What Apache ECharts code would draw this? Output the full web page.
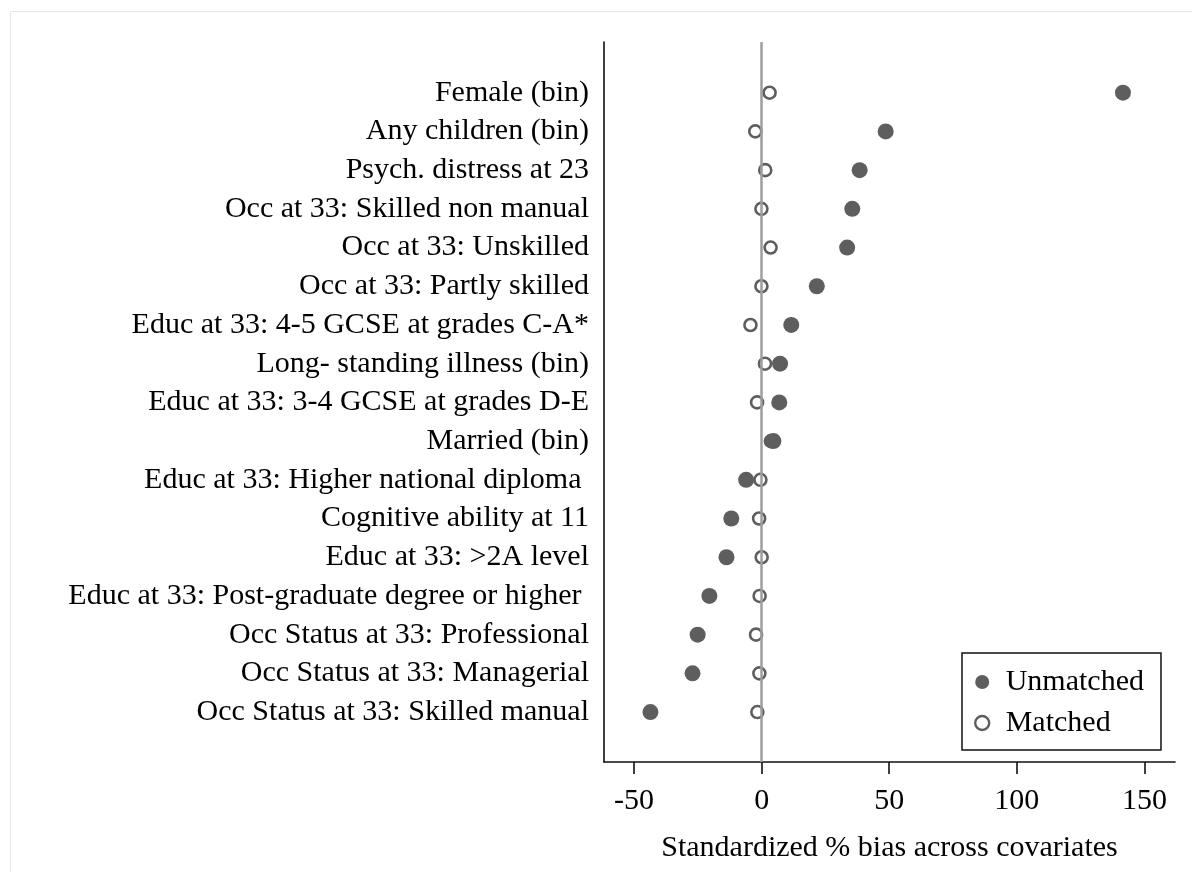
<!DOCTYPE html>
<html>
<head>
<meta charset="utf-8">
<title>Standardized % bias across covariates</title>
<script src="https://cdn.jsdelivr.net/npm/echarts@6/dist/echarts.min.js"></script>
<style>
  html, body { margin: 0; padding: 0; background: #ffffff; }
  #chart { width: 1192px; height: 872px; }
</style>
</head>
<body>
<div id="chart"></div>
<script>
// Covariates, top row first
const covariates = [
  'Female (bin)',
  'Any children (bin)',
  'Psych. distress at 23',
  'Occ at 33: Skilled non manual',
  'Occ at 33: Unskilled',
  'Occ at 33: Partly skilled',
  'Educ at 33: 4-5 GCSE at grades C-A*',
  'Long- standing illness (bin)',
  'Educ at 33: 3-4 GCSE at grades D-E',
  'Married (bin)',
  'Educ at 33: Higher national diploma ',
  'Cognitive ability at 11',
  'Educ at 33: >2A level',
  'Educ at 33: Post-graduate degree or higher ',
  'Occ Status at 33: Professional',
  'Occ Status at 33: Managerial',
  'Occ Status at 33: Skilled manual'
];

// Standardized % bias before matching
const unmatched = [141.6, 48.6, 38.4, 35.5, 33.5, 21.6, 11.6, 7.2, 6.9, 4.6,
                   -6.1, -11.9, -13.8, -20.5, -25.1, -27.1, -43.6];

// Standardized % bias after matching
const matched = [3.1, -2.5, 1.4, -0.1, 3.5, -0.1, -4.4, 1.3, -1.8, 3.6,
                 -0.5, -1.0, 0.0, -0.8, -2.2, -0.9, -1.7];

const xTicks = [-50, 0, 50, 100, 150];

const serif = "'Liberation Serif', 'Times New Roman', 'DejaVu Serif', serif";
const markerColor = '#5e5e5e';

const rowIdx = covariates.map((_, i) => i);
const unmatchedData = unmatched.map((v, i) => [v, i]);
const matchedData = matched.map((v, i) => [v, i]);

const chart = echarts.init(document.getElementById('chart'), null, { renderer: 'canvas' });

chart.setOption({
  backgroundColor: '#ffffff',
  animation: false,
  graphic: [{
    type: 'rect',
    z: -10,
    silent: true,
    shape: { x: 10.5, y: 11.5, width: 1300, height: 1000 },
    style: { fill: 'none', stroke: '#e2e7ee', lineWidth: 1 }
  }],
  grid: {
    left: 604, right: 17, top: 42, bottom: 110,
    containLabel: false,
    outerBoundsMode: 'none'
  },
  xAxis: {
    type: 'value',
    min: -61.8,
    max: 162,
    name: 'Standardized % bias across covariates',
    nameLocation: 'middle',
    nameGap: 71,
    nameTextStyle: { fontFamily: serif, fontSize: 30, color: '#000000' },
    axisLine: { show: true, onZero: false, lineStyle: { color: '#111111', width: 1.6 } },
    axisTick: { show: true, length: 12, customValues: xTicks, lineStyle: { color: '#111111', width: 1.6 } },
    axisLabel: { customValues: xTicks, margin: 24, fontFamily: serif, fontSize: 30, color: '#000000' },
    splitLine: { show: false }
  },
  yAxis: {
    type: 'value',
    inverse: true,
    min: -1.31,
    max: 17.29,
    axisLine: { show: true, onZero: false, lineStyle: { color: '#111111', width: 1.6 } },
    axisTick: { show: false },
    axisLabel: {
      customValues: rowIdx,
      formatter: v => covariates[Math.round(v)],
      margin: 15,
      fontFamily: serif,
      fontSize: 30,
      color: '#000000'
    },
    splitLine: { show: false }
  },
  legend: {
    orient: 'vertical',
    left: 962,
    top: 653,
    padding: [14, 17, 12, 12],
    itemGap: 11,
    itemWidth: 37,
    itemHeight: 14,
    borderColor: '#111111',
    borderWidth: 1.5,
    backgroundColor: '#ffffff',
    textStyle: { fontFamily: serif, fontSize: 30, color: '#000000', lineHeight: 30 },
    data: [
      { name: 'Unmatched', icon: 'circle', itemStyle: { color: markerColor, opacity: 1 } },
      { name: 'Matched', icon: 'circle',
        itemStyle: { color: 'rgba(0,0,0,0)', borderColor: markerColor, borderWidth: 2.4, opacity: 1 } }
    ]
  },
  series: [
    {
      // zero reference line
      type: 'line',
      data: [],
      silent: true,
      z: 1,
      markLine: {
        silent: true,
        symbol: ['none', 'none'],
        label: { show: false },
        lineStyle: { color: '#9e9e9e', width: 2.5, type: 'solid', opacity: 1 },
        data: [{ xAxis: 0 }]
      }
    },
    {
      name: 'Unmatched',
      type: 'scatter',
      z: 3,
      symbol: 'circle',
      symbolSize: 16,
      itemStyle: { color: markerColor, opacity: 1 },
      data: unmatchedData
    },
    {
      name: 'Matched',
      type: 'scatter',
      z: 4,
      symbol: 'circle',
      symbolSize: 12,
      itemStyle: { color: 'rgba(0,0,0,0)', borderColor: markerColor, borderWidth: 2.6, opacity: 1 },
      data: matchedData
    }
  ]
});
</script>
</body>
</html>
